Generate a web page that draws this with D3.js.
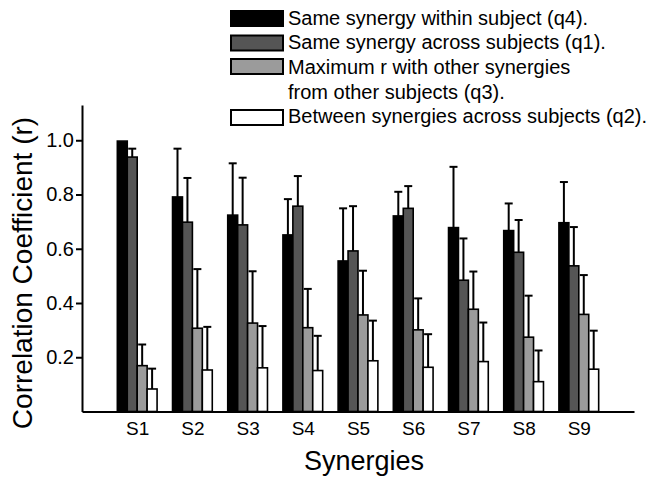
<!doctype html>
<html>
  <head>
    <style>
      body { margin: 0; background: #fff; }
      text { font-family: "Liberation Sans", Arial, sans-serif; fill: #000; }
    </style>
  </head>
  <body>
    <svg id="chart" width="653" height="477"></svg>
  </body>

  <script src="https://d3js.org/d3.v7.min.js"></script>
  <script>
  // synergy similarity values
  let categories = ["S1", "S2", "S3", "S4", "S5", "S6", "S7", "S8", "S9"];
  let seriesNames = [
    "Same synergy within subject (q4).",
    "Same synergy across subjects (q1).",
    "Maximum r with other synergies",
    "Between synergies across subjects (q2)."
  ];
  let q4 = [0.997, 0.791, 0.724, 0.651, 0.555, 0.721, 0.678, 0.667, 0.696];
  let q4sd = [0, 0.178, 0.191, 0.132, 0.194, 0.089, 0.224, 0.100, 0.150];
  let q1 = [0.938, 0.698, 0.688, 0.757, 0.592, 0.749, 0.484, 0.587, 0.537];
  let q1sd = [0.031, 0.163, 0.174, 0.111, 0.165, 0.082, 0.154, 0.119, 0.143];
  let q3 = [0.169, 0.307, 0.326, 0.309, 0.356, 0.301, 0.377, 0.274, 0.358];
  let q3sd = [0.078, 0.218, 0.191, 0.143, 0.163, 0.116, 0.139, 0.153, 0.145];
  let q2 = [0.083, 0.153, 0.161, 0.151, 0.187, 0.163, 0.184, 0.110, 0.156];
  let q2sd = [0.075, 0.159, 0.154, 0.128, 0.148, 0.122, 0.144, 0.115, 0.142];
  let yTicks = [0.2, 0.4, 0.6, 0.8, 1.0];

  let colors = ["#000000", "#555555", "#9b9b9b", "#ffffff"];
  let series = [[q4, q4sd], [q1, q1sd], [q3, q3sd], [q2, q2sd]];

  let svg = d3.select("#chart");

  // matlab style axis: categories sit at 1..9 on a 0..10 axis
  let x = d3.scaleLinear().domain([0, 10]).range([82, 634]);
  let y = d3.scaleLinear().domain([0, 1.13]).range([411.5, 105]);
  let barW = x(0.18) - x(0);

  // bars
  let rows = [];
  series.forEach(function (s, k) {
    s[0].forEach(function (v, i) {
      rows.push({ k: k, i: i, v: v, sd: s[1][i] });
    });
  });

  let g = svg.append("g");
  g.selectAll("rect.bar")
    .data(rows)
    .join("rect")
    .attr("class", "bar")
    .attr("x", d => x(d.i + 1) + (d.k - 2) * barW)
    .attr("y", d => y(d.v))
    .attr("width", barW)
    .attr("height", d => y(0) - y(d.v))
    .attr("fill", d => colors[d.k])
    .attr("stroke", "#000")
    .attr("stroke-width", 1.6);

  // error bars (upper only)
  let errs = g.selectAll("g.err")
    .data(rows.filter(d => d.sd > 0))
    .join("g")
    .attr("class", "err")
    .attr("stroke", "#000")
    .attr("stroke-width", 2);
  errs.append("line")
    .attr("x1", d => x(d.i + 1) + (d.k - 1.5) * barW)
    .attr("x2", d => x(d.i + 1) + (d.k - 1.5) * barW)
    .attr("y1", d => y(d.v))
    .attr("y2", d => y(d.v + d.sd));
  errs.append("line")
    .attr("x1", d => x(d.i + 1) + (d.k - 1.5) * barW - 4)
    .attr("x2", d => x(d.i + 1) + (d.k - 1.5) * barW + 4)
    .attr("y1", d => y(d.v + d.sd))
    .attr("y2", d => y(d.v + d.sd));

  // y axis
  let yAxis = svg.append("g")
    .attr("transform", "translate(" + x(0) + ",0)")
    .call(d3.axisLeft(y).tickValues(yTicks).tickFormat(d3.format(".1f")).tickSize(6).tickPadding(2).tickSizeOuter(0));
  yAxis.select(".domain").attr("stroke-width", 2);
  yAxis.selectAll(".tick line").attr("stroke-width", 2);
  yAxis.selectAll(".tick text").style("font-size", "20px").attr("font-family", null);

  // x axis
  let xAxis = svg.append("g")
    .attr("transform", "translate(0," + y(0) + ")")
    .call(d3.axisBottom(x).tickValues(d3.range(1, 10)).tickFormat(d => categories[d - 1]).tickSize(0).tickPadding(10).tickSizeOuter(0));
  xAxis.select(".domain").attr("stroke-width", 2);
  xAxis.selectAll(".tick text").style("font-size", "19px").attr("font-family", null);

  // axis titles
  svg.append("text")
    .attr("x", 364)
    .attr("y", 470)
    .attr("text-anchor", "middle")
    .style("font-size", "27px")
    .text("Synergies");

  svg.append("text")
    .attr("transform", "translate(32,273) rotate(-90)")
    .attr("text-anchor", "middle")
    .style("font-size", "28px")
    .text("Correlation Coefficient (r)");

  // legend
  let legendY = [11, 35.5, 59, 110];
  let legendText = [[25, seriesNames[0]], [49, seriesNames[1]], [74, seriesNames[2]], [99, "from other subjects (q3)."], [123, seriesNames[3]]];
  let legend = svg.append("g");
  legend.selectAll("rect")
    .data(legendY)
    .join("rect")
    .attr("x", 231)
    .attr("y", d => d)
    .attr("width", 52)
    .attr("height", 15)
    .attr("fill", (d, i) => colors[i])
    .attr("stroke", "#000")
    .attr("stroke-width", 2);
  legend.selectAll("text")
    .data(legendText)
    .join("text")
    .attr("x", 288)
    .attr("y", d => d[0])
    .style("font-size", "20px")
    .text(d => d[1]);
  </script>
</html>
